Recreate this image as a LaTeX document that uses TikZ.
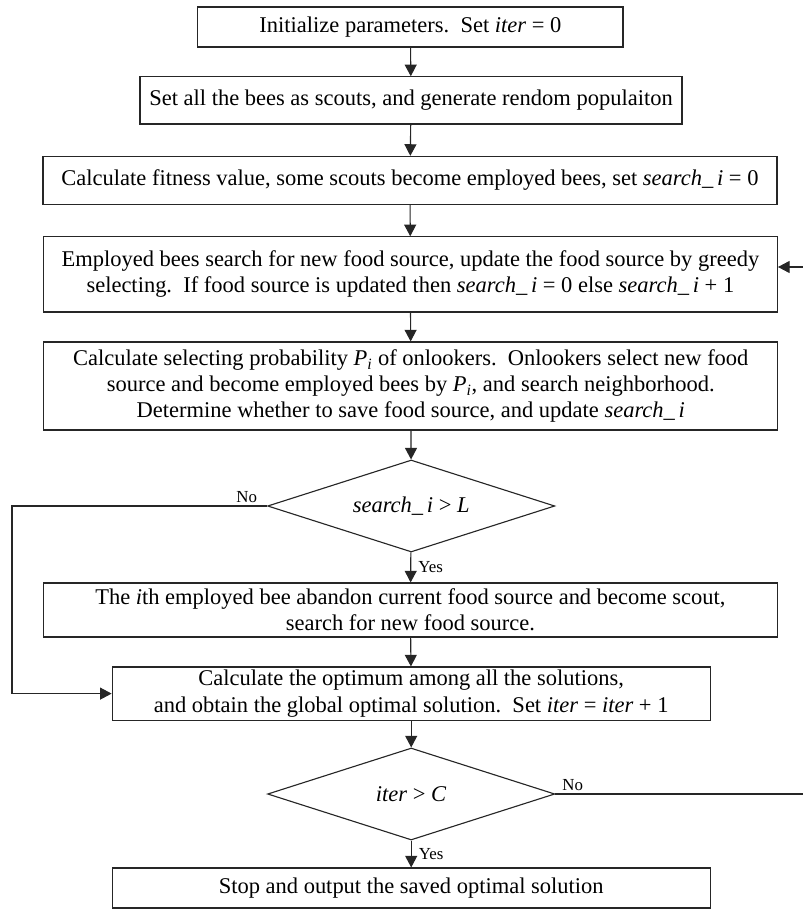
\documentclass[tikz,border=0pt]{standalone}
\usepackage{fontspec}
\setmainfont{Liberation Serif}
\usetikzlibrary{shapes.geometric}
\usetikzlibrary{positioning}
\usetikzlibrary{arrows.meta}
\tikzset{
    stepbox/.style = {rectangle, draw=black!85, line width=0.8pt, inner sep=0pt, align=center, font=\fontsize{16}{18.6}\selectfont},
    widebox/.style = {stepbox, minimum width=18.35cm},
    testnode/.style = {diamond, aspect=3.12, draw=black!85, line width=0.8pt, inner sep=0pt, minimum width=7.18cm, minimum height=2.3cm, font=\fontsize{16}{18.6}\selectfont},
    edgen/.style = {-{Triangle[length=0.29cm,width=0.3cm]}, draw=black!85, line width=0.8pt},
    linen/.style = {draw=black!85, line width=0.8pt},
    yesno/.style = {font=\fontsize{12}{14}\selectfont, inner sep=2pt}
}
\newcommand{\It}[1]{\textit{#1}}
\newcommand{\srch}{\textit{search\_\,i}}

\begin{document}
\begin{tikzpicture}
\useasboundingbox (0,0) rectangle (20.075,-22.725);
\node[stepbox, minimum width=10.63cm, minimum height=1.0cm] at (10.26,-0.675) (init) {Initialize parameters.\ \ Set \It{iter} = 0};
\node[stepbox, minimum width=13.55cm, minimum height=1.18cm] at (10.275,-2.51) (scout) {Set all the bees as scouts, and generate rendom populaiton};
\node[widebox, minimum height=1.2cm] at (10.25,-4.51) (fit) {Calculate fitness value, some scouts become employed bees, set \srch{} = 0};
\node[widebox, minimum height=1.88cm] at (10.26,-6.86) (employ) {Employed bees search for new food source, update the food source by greedy\\selecting.\ \ If food source is updated then \srch{} = 0 else \srch{} + 1};
\node[widebox, minimum height=2.2cm] at (10.27,-9.65) (onlook) {Calculate selecting probability \It{P\textsubscript{i}} of onlookers.\ \ Onlookers select new food\\source and become employed bees by \It{P\textsubscript{i}}, and search neighborhood.\\Determine whether to save food source, and update \srch};
\node[testnode] at (10.28,-12.65) (limit) {\srch{} > \It{L}};
\node[widebox, minimum height=1.35cm] at (10.26,-15.25) (abandon) {The \It{i}th employed bee abandon current food source and become scout,\\search for new food source.};
\node[stepbox, minimum width=14.95cm, minimum height=1.33cm] at (10.28,-17.34) (optimum) {Calculate the optimum among all the solutions,\\and obtain the global optimal solution.\ \ Set \It{iter} = \It{iter} + 1};
\node[testnode] at (10.28,-19.85) (maxiter) {\It{iter} > \It{C}};
\node[stepbox, minimum width=14.95cm, minimum height=1.0cm] at (10.28,-22.2) (stop) {Stop and output the saved optimal solution};
\coordinate (back) at (20.075,-6.675);
\coordinate (noend) at (20.075,-19.85);
\coordinate (loop) at (0.3,-12.65);
%
\draw[edgen] (init) -- (scout);
\draw[edgen] (scout) -- (fit);
\draw[edgen] (fit) -- (employ);
\draw[edgen] (employ) -- (onlook);
\draw[edgen] (onlook) -- (limit);
\draw[edgen] (limit) -- node[yesno, right=3pt] {Yes} (abandon);
\draw[edgen] (limit.west) -- node[yesno, above, pos=0.08] {No} (loop) |- (optimum.west);
\draw[edgen] (abandon) -- (optimum);
\draw[edgen] (optimum) -- (maxiter);
\draw[edgen] (maxiter) -- node[yesno, right=3pt] {Yes} (stop);
\draw[linen] (maxiter.east) -- node[yesno, above, pos=0.07] {No} (noend);
\draw[edgen] (back) -- (back -| employ.east);

\end{tikzpicture}
\end{document}
